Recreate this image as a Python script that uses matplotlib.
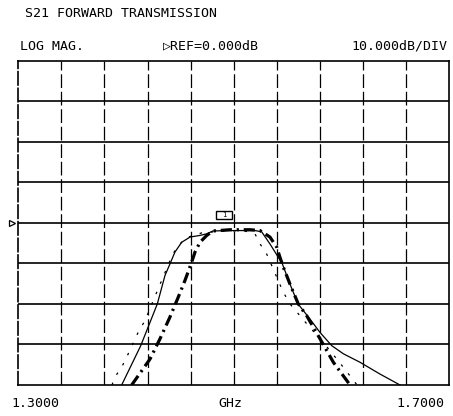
import numpy as np
import matplotlib.pyplot as plt
from matplotlib.patches import Rectangle

# === Данные (частота в ГГц, уровень в дБ) ===
solid_f = [1.3960, 1.4137, 1.4291, 1.4362, 1.4409, 1.4455, 1.4517, 1.4595, 1.4687,
           1.4750, 1.4808, 1.4966, 1.5105, 1.5198, 1.5260, 1.5337, 1.5415, 1.5449,
           1.5523, 1.5598, 1.5708, 1.5801, 1.5911, 1.6019, 1.6174, 1.6359, 1.6545]
solid_db = [-40.0, -30.3, -20.0, -13.0, -10.1, -7.2, -4.8, -3.5, -3.1,
            -2.7, -2.0, -1.9, -1.9, -1.9, -2.2, -5.2, -8.5, -9.9,
            -15.1, -20.0, -23.7, -27.0, -30.3, -32.3, -34.4, -37.3, -40.0]

thick_f = [1.4053, 1.4146, 1.4223, 1.4316, 1.4409, 1.4486, 1.4548, 1.4610, 1.4641,
           1.4687, 1.4750, 1.4808, 1.4966, 1.5152, 1.5245, 1.5337, 1.5400, 1.5430,
           1.5461, 1.5523, 1.5600, 1.5678, 1.5802, 1.5926, 1.6081]
thick_db = [-40.0, -36.5, -33.6, -28.6, -23.2, -18.3, -14.2, -9.7, -7.2,
            -4.8, -3.1, -2.0, -1.7, -1.7, -1.9, -3.5, -6.0, -8.5,
            -10.9, -15.1, -20.0, -22.9, -28.6, -34.4, -40.0]

dotted_f = [1.3870, 1.3898, 1.3960, 1.4007, 1.4115, 1.4177, 1.4270, 1.4316, 1.4409,
            1.4455, 1.4502, 1.4557, 1.4700, 1.4900, 1.5100, 1.5198, 1.5245, 1.5307,
            1.5368, 1.5400, 1.5461, 1.5523, 1.5682, 1.5848, 1.6000, 1.6146]
dotted_db = [-40.0, -38.0, -35.6, -33.1, -26.9, -24.1, -18.1, -15.2, -9.3,
             -6.8, -5.2, -3.7, -2.5, -2.0, -2.0, -2.7, -5.2, -7.7,
             -11.4, -13.4, -17.1, -20.0, -25.0, -30.0, -35.0, -40.0]

f_start, f_stop = 1.3, 1.7
ref_db, db_per_div = 0.0, 10.0
marker_f, marker_db = 1.491, 2.0

title = 'S21 FORWARD TRANSMISSION'
fmt_label = 'LOG MAG.'
ref_label = '\u25b7REF=0.000dB'
scale_label = '10.000dB/DIV'
start_label = '1.3000'
unit_label = 'GHz'
stop_label = '1.7000'

plt.rcParams['font.family'] = ['DejaVu Sans Mono', 'DejaVu Sans']

# === Рисунок ===
fig = plt.figure(figsize=(4.53, 4.16), dpi=100)
ax = fig.add_axes([0.0404, 0.0745, 0.9508, 0.7796])
ax.set_xlim(f_start, f_stop)
ax.set_ylim(ref_db - 4 * db_per_div, ref_db + 4 * db_per_div)
ax.set_xticks([])
ax.set_yticks([])

for sp in ax.spines.values():
    sp.set_linewidth(1.2)
    sp.set_color('black')
ax.spines['left'].set_linestyle((0, (8, 2)))

# сетка: вертикальные линии прерывистые, горизонтальные сплошные
for f in np.linspace(f_start, f_stop, 11)[1:-1]:
    ax.axvline(f, color='black', lw=0.9, ls=(0, (11, 3)), zorder=1)
for d in np.arange(-3, 4) * db_per_div + ref_db:
    ax.axhline(d, color='black', lw=1.2, zorder=1)

# кривые
ax.plot(dotted_f, dotted_db, color='black', lw=0.9, ls=(0, (2, 7)), zorder=3)
ax.plot(solid_f, solid_db, color='black', lw=0.9, zorder=3)
ax.plot(thick_f, thick_db, color='black', lw=2.3, ls=(0, (3.5, 1.5, 0.7, 1.5)), zorder=4)

# маркер и указатель опорного уровня
ax.add_patch(Rectangle((marker_f - 0.007, marker_db - 1.0), 0.014, 2.0,
                       fill=False, ec='black', lw=1.0, zorder=5))
ax.text(marker_f, marker_db, '1', fontsize=5, ha='center', va='center', zorder=5)
ax.plot([f_start - 0.0059], [ref_db], marker='>', ms=4, mfc='white', mec='black',
        mew=0.9, clip_on=False)

# === Подписи ===
fs = 9.5
fig.text(0.055, 0.9675, title, fontsize=fs, ha='left', va='center')
fig.text(0.044, 0.889, fmt_label, fontsize=fs, ha='left', va='center')
fig.text(0.36, 0.889, ref_label, fontsize=fs, ha='left', va='center')
fig.text(0.987, 0.889, scale_label, fontsize=fs, ha='right', va='center')
fig.text(0.026, 0.029, start_label, fontsize=fs, ha='left', va='center')
fig.text(0.508, 0.029, unit_label, fontsize=fs, ha='center', va='center')
fig.text(0.982, 0.029, stop_label, fontsize=fs, ha='right', va='center')

fig.savefig('out.png', dpi=100)
